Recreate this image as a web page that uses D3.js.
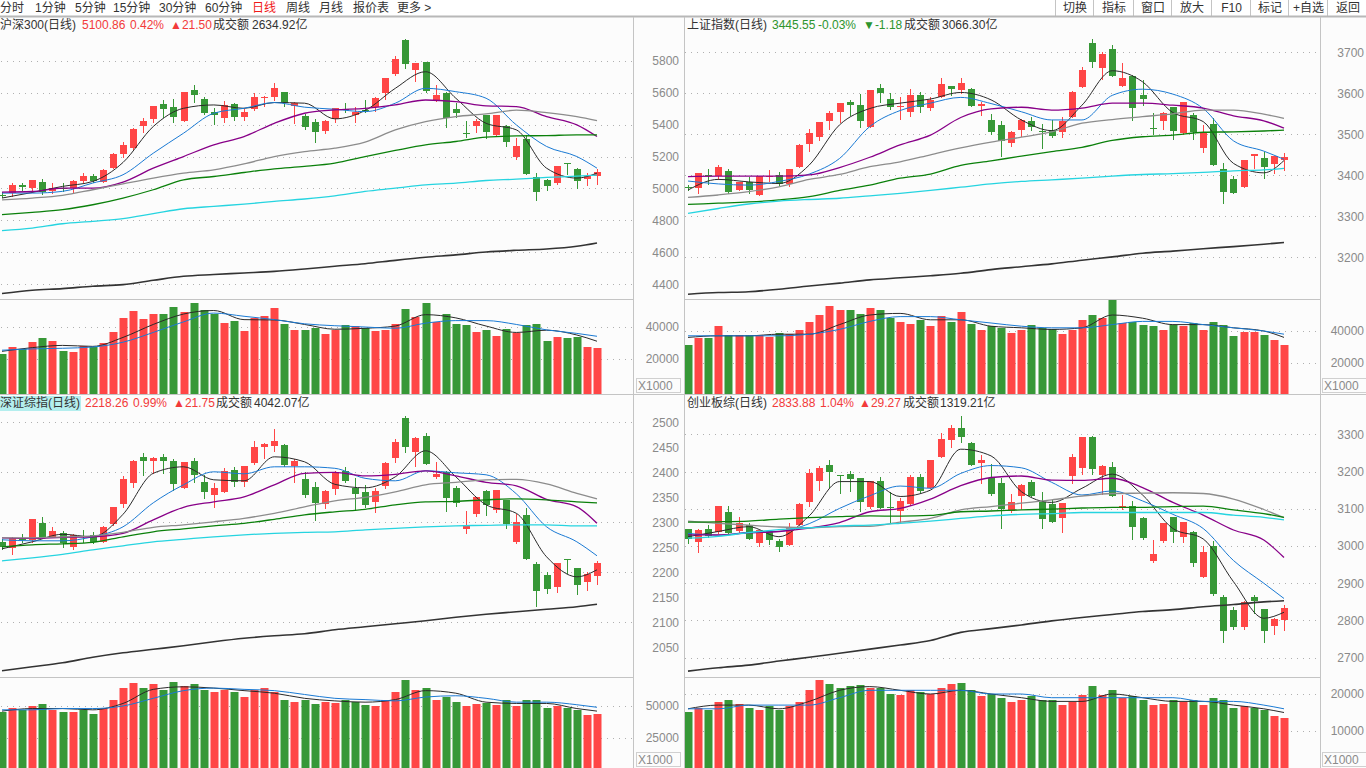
<!DOCTYPE html>
<html>
<head>
<meta charset="utf-8">
<script src="https://cdn.jsdelivr.net/npm/d3@7"></script>
<style>
  body { margin: 0; background: #fcfcfc; overflow: hidden; }
  svg text { font-family: "Liberation Sans", Arial, "Noto Sans CJK SC", sans-serif; font-size: 12px; }
</style>
</head>
<body>
<svg id="chart" width="1366" height="768"></svg>
<script>
// ---- data ----
const toolbarItems = ["分时", "1分钟", "5分钟", "15分钟", "30分钟", "60分钟", "日线", "周线", "月线", "报价表", "更多 >"]
const toolButtons = ["切换", "指标", "窗口", "放大", "F10", "标记", "+自选", "返回"]

// days at which the moving average lines were read
const maDays = [0, 3, 6, 9, 12, 15, 18, 21, 24, 27, 30, 33, 36, 39, 42, 45, 48, 51, 54, 57, 59]

// 沪深300 [open, high, low, close]
const hs300Title = ["沪深300(日线)", "5100.86", "0.42%", "▲21.50", "成交额", "2634.92亿"]
const hs300Candles = [
  [4962,4975,4945,4960],[4971,5033,4954,5023],[5023,5037,4992,5008],[5006,5054,4975,5054],[5040,5058,4967,4975],
  [4987,5033,4971,5006],[5006,5037,4985,5004],[5002,5050,4981,5048],[5048,5096,5040,5075],[5081,5092,5042,5048],
  [5042,5121,5038,5117],[5131,5225,5127,5217],[5217,5294,5200,5273],[5252,5377,5242,5373],[5394,5440,5352,5425],
  [5436,5517,5419,5517],[5529,5554,5450,5498],[5508,5558,5419,5446],[5425,5604,5425,5604],[5617,5648,5544,5585],
  [5560,5571,5467,5475],[5477,5502,5402,5463],[5444,5548,5419,5523],[5529,5538,5429,5446],[5450,5496,5429,5481],
  [5496,5600,5492,5571],[5569,5579,5517,5575],[5571,5663,5554,5629],[5604,5604,5517,5533],[5517,5542,5408,5538],
  [5454,5467,5371,5388],[5417,5433,5294,5356],[5361,5429,5350,5423],[5436,5502,5419,5502],[5496,5533,5481,5494],
  [5461,5513,5419,5477],[5492,5554,5477,5490],[5513,5575,5488,5565],[5596,5690,5560,5690],[5717,5829,5710,5808],
  [5929,5935,5756,5777],[5742,5788,5675,5783],[5790,5790,5606,5610],[5548,5648,5548,5585],[5600,5606,5388,5444],
  [5498,5538,5446,5475],[5346,5423,5325,5344],[5392,5433,5356,5423],[5461,5461,5315,5356],[5336,5461,5329,5461],
  [5392,5398,5263,5288],[5200,5315,5183,5267],[5308,5336,5090,5090],[5071,5096,4925,4981],[5054,5058,4988,5013],
  [5034,5142,5029,5138],[5158,5158,5092,5156],[5121,5127,5002,5044],[5062,5096,5019,5079.36],[5078,5125,5030,5100.86]
]
const hs300Vol = [
  23400,27500,26100,30500,32900,31100,24800,24400,28100,27500,30100,36600,45700,50300,45100,48100,48100,52700,49100,55100,
  50700,48100,42600,43600,37600,45700,46700,51700,42000,38200,38200,39600,35600,38200,41000,40600,39600,37200,38200,42000,
  51100,46500,54700,43000,48100,42000,41000,36600,38200,34200,38600,36200,41200,42000,31100,33500,32900,33500,27500,26900
]
const hs300Ma = [
  [4940,4975,5013,5044,5163,5388,5502,5523,5502,5538,5534,5436,5488,5627,5731,5565,5408,5367,5127,5065,5096],
  [4971,4971,4982,5034,5086,5221,5346,5471,5502,5538,5509,5496,5481,5534,5627,5606,5565,5398,5263,5200,5127],
  [4977,4981,5002,5002,5040,5127,5200,5273,5325,5408,5471,5492,5502,5523,5554,5544,5517,5513,5450,5398,5325],
  [4929,4940,4957,4992,5029,5065,5096,5117,5154,5200,5231,5252,5290,5367,5419,5450,5467,5490,5475,5450,5425],
  [4836,4850,4867,4898,4940,4992,5054,5075,5100,5123,5138,5159,5200,5238,5273,5294,5321,5329,5331,5336,5336],
  [4736,4752,4779,4794,4811,4842,4873,4888,4902,4919,4934,4954,4982,5002,5023,5034,5050,5058,5069,5077,5084],
  [4342,4363,4373,4388,4398,4425,4450,4461,4471,4481,4496,4513,4529,4550,4569,4584,4602,4613,4621,4638,4659]
]
const hs300VolMa = [
  [24800,27100,28500,27900,33500,41600,48100,50300,44600,44400,41600,38600,39200,40600,47700,45700,40600,36600,38000,35000,31100],
  [25500,26300,26700,27500,30500,36600,43200,48700,46700,44600,42000,40800,40000,39200,42400,44000,44000,41600,38200,36000,34200]
]
const hs300Ticks = [4400, 4600, 4800, 5000, 5200, 5400, 5600, 5800]
const hs300VolTicks = [20000, 40000]

// 上证指数
const shTitle = ["上证指数(日线)", "3445.55", "-0.03%", "▼-1.18", "成交额", "3066.30亿"]
const shCandles = [
  [3371,3376,3364,3369],[3370,3405,3356,3405],[3401,3415,3380,3398],[3398,3425,3390,3421],[3410,3415,3356,3360],
  [3364,3384,3363,3383],[3384,3397,3356,3364],[3352,3398,3352,3398],[3395,3413,3385,3398],[3401,3407,3376,3380],
  [3378,3415,3375,3415],[3421,3476,3421,3474],[3476,3513,3459,3502],[3494,3529,3486,3529],[3533,3558,3513,3553],
  [3555,3576,3531,3576],[3578,3584,3547,3572],[3572,3598,3519,3533],[3519,3608,3519,3608],[3613,3623,3578,3600],
  [3586,3600,3561,3567],[3566,3592,3537,3568],[3555,3610,3545,3596],[3596,3602,3555,3567],[3565,3592,3559,3584],
  [3592,3638,3590,3623],[3618,3618,3596,3610],[3608,3638,3600,3626],[3610,3612,3569,3569],[3569,3579,3547,3574],
  [3535,3549,3500,3506],[3523,3532,3448,3484],[3480,3508,3472,3505],[3510,3537,3497,3535],[3533,3543,3510,3519],
  [3507,3524,3467,3505],[3510,3535,3494,3496],[3506,3543,3493,3532],[3541,3606,3541,3604],[3615,3663,3615,3657],
  [3722,3732,3665,3677],[3661,3700,3635,3696],[3708,3718,3643,3643],[3619,3673,3619,3637],[3641,3645,3535,3565],
  [3596,3632,3572,3586],[3515,3553,3501,3512],[3533,3554,3513,3551],[3566,3566,3488,3509],[3502,3580,3501,3580],
  [3547,3551,3489,3505],[3466,3523,3458,3502],[3524,3539,3424,3424],[3415,3429,3332,3360],[3391,3399,3356,3358],
  [3372,3437,3372,3437],[3448,3453,3419,3453],[3441,3458,3394,3421],[3428,3447,3406,3446.73],[3438,3454,3412,3445.55]
]
const shVol = [
  31250,35600,35600,43100,37500,37500,37500,37500,36250,38750,38100,40600,45600,50000,55600,53100,53100,50600,54400,53100,
  48100,45600,44400,46900,43100,49400,45600,51900,44400,40600,43100,41900,38750,40600,43750,41900,41250,38100,40600,46900,
  50000,48100,59400,45000,45600,43750,43100,40600,43750,43100,45000,40600,45600,43750,36900,39400,39400,37500,34400,31250
]
const shMa = [
  [3364,3390,3384,3380,3425,3523,3563,3576,3586,3602,3584,3535,3509,3571,3655,3628,3553,3531,3429,3406,3436],
  [3386,3379,3376,3385,3403,3441,3519,3558,3576,3590,3575,3555,3535,3535,3595,3610,3598,3563,3484,3459,3439],
  [3397,3398,3398,3398,3401,3419,3444,3474,3498,3541,3562,3566,3559,3564,3576,3576,3571,3564,3545,3533,3515],
  [3346,3352,3360,3372,3390,3402,3421,3433,3450,3467,3481,3493,3506,3527,3536,3543,3550,3559,3559,3549,3539],
  [3329,3332,3335,3340,3348,3363,3376,3393,3403,3424,3435,3447,3458,3468,3485,3494,3498,3505,3506,3508,3510],
  [3307,3319,3330,3337,3341,3344,3350,3356,3363,3371,3379,3385,3389,3393,3398,3402,3404,3407,3411,3413,3417],
  [3110,3114,3116,3122,3130,3137,3145,3150,3155,3161,3170,3177,3184,3193,3201,3210,3215,3221,3226,3232,3236]
]
const shVolMa = [
  [36000,37000,37000,38000,38000,44000,50000,51000,47000,47000,43000,42000,41000,42000,50000,48000,44000,44000,42000,40000,36000],
  [37000,37000,37000,37000,38000,41000,46000,49000,49000,47000,45000,43000,42000,42000,44000,46000,46000,44000,42000,40000,38000]
]
const shTicks = [3200, 3300, 3400, 3500, 3600, 3700]
const shVolTicks = [20000, 40000]

// 深证综指
const szTitle = ["深证综指(日线)", "2218.26", "0.99%", "▲21.75", "成交额", "4042.07亿"]
const szCandles = [
  [2261,2266,2247,2250],[2248,2271,2236,2269],[2269,2276,2261,2265],[2265,2307,2261,2307],[2299,2311,2268,2270],
  [2271,2291,2270,2283],[2279,2283,2251,2258],[2251,2276,2247,2275],[2273,2285,2261,2271],[2275,2280,2258,2260],
  [2261,2293,2260,2291],[2296,2331,2295,2331],[2336,2393,2331,2387],[2378,2425,2371,2423],[2431,2439,2395,2423],
  [2423,2431,2398,2428],[2430,2437,2399,2423],[2423,2427,2365,2376],[2368,2421,2368,2420],[2423,2429,2380,2395],
  [2380,2395,2348,2361],[2355,2378,2331,2369],[2361,2409,2360,2403],[2405,2411,2373,2380],[2380,2413,2373,2413],
  [2418,2463,2417,2450],[2450,2458,2428,2456],[2453,2487,2443,2463],[2455,2457,2413,2415],[2413,2426,2381,2423],
  [2386,2401,2350,2355],[2370,2380,2305,2338],[2336,2365,2329,2363],[2367,2403,2356,2400],[2403,2411,2380,2383],
  [2368,2388,2325,2356],[2360,2375,2331,2335],[2341,2368,2321,2363],[2373,2421,2368,2419],[2429,2467,2421,2461],
  [2509,2513,2441,2451],[2440,2471,2413,2469],[2473,2478,2417,2417],[2391,2421,2388,2397],[2400,2403,2323,2349],
  [2368,2373,2333,2338],[2287,2323,2279,2293],[2317,2351,2313,2350],[2363,2365,2315,2335],[2325,2365,2320,2365],
  [2345,2345,2289,2297],[2261,2317,2258,2301],[2315,2328,2226,2226],[2217,2221,2133,2163],[2195,2200,2159,2167],
  [2171,2218,2161,2218],[2226,2226,2198,2225],[2208,2209,2156,2175],[2181,2201,2165,2196.51],[2193,2223,2177,2218.26]
]
const szVol = [
  45300,48400,46900,50000,51500,46900,45300,45300,46900,43700,48400,54700,64000,67900,64000,67200,62500,68700,65600,67200,
  62500,60900,62500,60900,57000,62500,64000,60900,54700,53100,54700,51500,53100,52300,54700,53100,50800,50000,54700,60900,
  70300,62500,64000,54700,57000,53100,50000,51500,52300,50800,54700,50000,54700,54700,48400,50000,48400,46900,43000,43700
]
const szMa = [
  [2247,2261,2276,2271,2316,2398,2411,2385,2383,2431,2421,2376,2369,2391,2443,2391,2335,2318,2231,2191,2205],
  [2265,2263,2263,2271,2291,2339,2375,2401,2397,2411,2411,2408,2388,2383,2403,2399,2395,2357,2291,2261,2233],
  [2269,2268,2270,2271,2278,2305,2330,2341,2351,2375,2398,2400,2393,2396,2403,2393,2380,2373,2346,2331,2298],
  [2269,2269,2271,2273,2280,2290,2295,2301,2308,2318,2331,2343,2350,2361,2375,2380,2385,2386,2377,2358,2347],
  [2251,2255,2257,2260,2271,2281,2287,2293,2298,2306,2315,2321,2326,2335,2341,2342,2345,2347,2345,2341,2339],
  [2223,2229,2236,2245,2253,2261,2266,2271,2275,2278,2280,2281,2285,2288,2291,2293,2294,2295,2295,2293,2293],
  [2003,2011,2019,2030,2039,2046,2053,2061,2068,2073,2077,2085,2091,2097,2103,2110,2116,2121,2126,2131,2136]
]
const szVolMa = [
  [46000,48000,48000,47000,52000,63000,65000,64000,62000,60000,56000,54000,53000,55000,62000,60000,53000,52000,52000,48000,46000],
  [47000,47000,48000,48000,50000,56000,62000,64000,63000,62000,59000,56000,55000,54000,57000,58000,56000,53000,53000,51000,49000]
]
const szTicks = [2050, 2100, 2150, 2200, 2250, 2300, 2350, 2400, 2450, 2500]
const szGrid = [2100, 2200, 2300, 2400, 2500]
const szVolTicks = [25000, 50000]

// 创业板综
const cybTitle = ["创业板综(日线)", "2833.88", "1.04%", "▲29.27", "成交额", "1319.21亿"]
const cybCandles = [
  [3046,3046,3007,3019],[3012,3045,2983,3043],[3047,3056,3025,3028],[3037,3107,3034,3107],[3090,3107,3031,3034],
  [3040,3077,3038,3061],[3056,3061,3019,3019],[3009,3043,3001,3043],[3040,3043,3005,3016],[3013,3019,2987,2998],
  [3003,3063,3003,3052],[3056,3115,3056,3112],[3119,3207,3108,3195],[3175,3216,3150,3209],[3218,3231,3159,3200],
  [3190,3191,3143,3188],[3193,3201,3149,3179],[3182,3182,3095,3117],[3106,3175,3103,3175],[3175,3186,3101,3101],
  [3104,3146,3065,3102],[3095,3128,3064,3121],[3112,3192,3110,3186],[3184,3193,3146,3149],[3157,3231,3155,3231],
  [3240,3303,3238,3287],[3285,3325,3265,3316],[3316,3349,3278,3294],[3276,3278,3218,3218],[3224,3244,3170,3231],
  [3182,3219,3137,3139],[3168,3182,3049,3099],[3094,3139,3092,3119],[3133,3166,3101,3164],[3171,3177,3133,3133],
  [3117,3146,3049,3073],[3113,3124,3064,3065],[3074,3115,3037,3115],[3189,3246,3168,3238],[3209,3294,3193,3294],
  [3292,3296,3193,3207],[3191,3218,3140,3216],[3213,3225,3135,3135],[3101,3137,3099,3107],[3107,3121,3019,3052],
  [3074,3079,3019,3022],[2960,3016,2958,2979],[3013,3061,3012,3061],[3079,3079,3012,3038],[3025,3064,3012,3064],
  [3037,3040,2947,2955],[2918,3001,2918,2983],[3000,3014,2868,2871],[2864,2868,2743,2773],[2828,2835,2776,2782],
  [2783,2852,2776,2849],[2864,2868,2819,2852],[2832,2832,2743,2773],[2786,2806,2764,2804.61],[2800,2842,2774,2833.88]
]
const cybVol = [
  15100,16200,15700,17800,18400,17300,16200,15700,16700,15700,16700,17800,21100,23800,22700,21600,22100,22400,21600,21600,
  20000,19700,21100,20500,20000,21600,22700,23000,21100,19400,20000,18900,17800,18400,19400,18400,18400,17000,17800,19700,
  22100,19700,21100,18900,19400,18400,17000,17300,18400,17800,18400,17000,18900,18400,16200,16700,16200,15700,14000,13500
]
const cybMa = [
  [3025,3039,3052,3025,3081,3173,3173,3133,3150,3260,3242,3146,3117,3155,3193,3137,3047,3019,2904,2806,2822],
  [3034,3029,3037,3039,3060,3101,3135,3161,3155,3195,3216,3210,3171,3137,3148,3121,3085,3047,2961,2900,2859],
  [3030,3030,3035,3039,3048,3063,3092,3101,3126,3162,3184,3188,3177,3176,3182,3157,3117,3083,3043,3016,2969],
  [3067,3061,3056,3051,3049,3052,3053,3064,3074,3097,3106,3115,3124,3134,3141,3142,3143,3141,3126,3098,3076],
  [3064,3065,3067,3072,3076,3079,3081,3080,3082,3092,3094,3097,3099,3102,3104,3104,3106,3107,3097,3087,3077],
  [3021,3026,3036,3044,3049,3054,3056,3061,3067,3074,3081,3085,3087,3090,3090,3090,3090,3090,3083,3077,3070],
  [2664,2673,2680,2691,2701,2712,2723,2734,2746,2768,2778,2788,2799,2808,2816,2824,2829,2837,2843,2850,2853]
]
const cybVolMa = [
  [16000,17000,17000,16000,18000,21000,22000,21000,20000,21000,20000,19000,18000,18000,20000,19000,18000,18000,17000,16000,15000],
  [16000,16000,17000,17000,17000,19000,21000,21000,21000,21000,20000,20000,19000,19000,19000,19000,19000,18000,18000,17000,16000]
]
const cybTicks = [2700, 2800, 2900, 3000, 3100, 3200, 3300]
const cybVolTicks = [10000, 20000]

// ---- styles ----
const upColor = "#ff4646"
const downColor = "#379837"
const maColors = ["#2a2a2a", "#1a7ad4", "#880088", "#8c8c8c", "#0b800b", "#26d4e0", "#333333"]
const maWidths = [1, 1, 1.3, 1.3, 1.3, 1.3, 1.6]
const volMaColors = ["#2a2a2a", "#1a7ad4"]
const textDark = "#333"
const axisGray = "#8a8a8a"
const lineGray = "#c4c4c4"

// layout of each window; scales are pinned so the tick labels sit where the screenshot has them
const panels = [
  { title: hs300Title, titleX: [0, 82, 130, 170, 213, 252], titleY: 29, candles: hs300Candles, vol: hs300Vol,
    ma: hs300Ma, volMa: hs300VolMa, left: 0, right: 633, xFirst: 2, xLast: 597,
    top: 17, mid: 299, bottom: 394, priceDomain: [4400, 5800], priceRange: [284.3, 60.7],
    ticks: hs300Ticks, grid: hs300Ticks, volTicks: hs300VolTicks, volRange: [359, 327], labelX: 679, unitX: 636 },
  { title: shTitle, titleX: [687, 772, 818, 863, 904, 942], titleY: 29, candles: shCandles, vol: shVol,
    ma: shMa, volMa: shVolMa, left: 684, right: 1320, xFirst: 688, xLast: 1284,
    top: 17, mid: 299, bottom: 394, priceDomain: [3200, 3700], priceRange: [257.3, 52.3],
    ticks: shTicks, grid: shTicks, volTicks: shVolTicks, volRange: [363, 331], labelX: 1364, unitX: 1322 },
  { title: szTitle, titleX: [0, 85, 133, 173, 216, 254], titleY: 407, candles: szCandles, vol: szVol,
    ma: szMa, volMa: szVolMa, left: 0, right: 633, xFirst: 2, xLast: 597,
    top: 395, mid: 677, bottom: 768, priceDomain: [2050, 2500], priceRange: [647.3, 422.3],
    ticks: szTicks, grid: szGrid, volTicks: szVolTicks, volRange: [738, 706], labelX: 679, unitX: 636, selected: true },
  { title: cybTitle, titleX: [687, 772, 820, 859, 903, 940], titleY: 407, candles: cybCandles, vol: cybVol,
    ma: cybMa, volMa: cybVolMa, left: 684, right: 1320, xFirst: 688, xLast: 1284,
    top: 395, mid: 677, bottom: 768, priceDomain: [2700, 3300], priceRange: [657.7, 434.3],
    ticks: cybTicks, grid: cybTicks, volTicks: cybVolTicks, volRange: [731, 694], labelX: 1364, unitX: 1322 }
]

const svg = d3.select("#chart")

svg.append("rect")
    .attr("width", 1366)
    .attr("height", 768)
    .attr("fill", "#fcfcfc")

// 1. toolbar
const toolbarX = [0, 35, 75, 113, 159, 205, 252, 286, 319, 353, 397]
svg.append("rect")
    .attr("width", 1366)
    .attr("height", 16)
    .attr("fill", "#ffffff")

svg.append("g")
  .selectAll("text")
  .data(toolbarItems)
  .join("text")
    .attr("x", (d, i) => toolbarX[i])
    .attr("y", 12)
    .attr("fill", d => d == "日线" ? "#f01818" : textDark)
    .text(d => d)

const buttonEdges = [1055, 1093, 1133, 1171, 1211, 1250, 1288, 1327, 1367]
svg.append("g")
  .selectAll("line")
  .data(buttonEdges.slice(0, -1))
  .join("line")
    .attr("x1", d => d + 0.5)
    .attr("x2", d => d + 0.5)
    .attr("y1", 0)
    .attr("y2", 16)
    .attr("stroke", lineGray)

svg.append("g")
  .selectAll("text")
  .data(toolButtons)
  .join("text")
    .attr("x", (d, i) => (buttonEdges[i] + buttonEdges[i + 1]) / 2 + 1)
    .attr("y", 12)
    .attr("text-anchor", "middle")
    .attr("fill", textDark)
    .text(d => d)

svg.append("line")
    .attr("x1", 0).attr("x2", 1366)
    .attr("y1", 16.5).attr("y2", 16.5)
    .attr("stroke", "#b8b8b8")
    .attr("stroke-width", 2)

// 2. windows
panels.forEach((p, n) => drawPanel(p, n))

function drawPanel(p, n) {
  const x = d3.scaleLinear()
    .domain([0, p.candles.length - 1])
    .range([p.xFirst, p.xLast])
  const y = d3.scaleLinear()
    .domain(p.priceDomain)
    .range(p.priceRange)
  const yVol = d3.scaleLinear()
    .domain(p.volTicks)
    .range(p.volRange)
  const px = i => Math.round(x(i))
  const isUp = d => d[3] >= d[0]

  const g = svg.append("g")

  const defs = g.append("defs")
  defs.append("clipPath").attr("id", "price" + n)
    .append("rect")
      .attr("x", p.left).attr("y", p.top + 1)
      .attr("width", p.right - p.left).attr("height", p.mid - p.top - 1)
  defs.append("clipPath").attr("id", "vol" + n)
    .append("rect")
      .attr("x", p.left).attr("y", p.mid + 1)
      .attr("width", p.right - p.left).attr("height", p.bottom - p.mid - 1)

  // dotted grid
  g.append("g")
    .selectAll("line")
    .data(p.grid)
    .join("line")
      .attr("x1", p.left + 1)
      .attr("x2", p.right)
      .attr("y1", d => Math.round(y(d)) + 0.5)
      .attr("y2", d => Math.round(y(d)) + 0.5)
      .attr("stroke", "#b0b0b0")
      .attr("stroke-dasharray", "1,5")

  g.append("g")
    .selectAll("line")
    .data(p.volTicks)
    .join("line")
      .attr("x1", p.left + 1)
      .attr("x2", p.right)
      .attr("y1", d => Math.round(yVol(d)) + 0.5)
      .attr("y2", d => Math.round(yVol(d)) + 0.5)
      .attr("stroke", "#b0b0b0")
      .attr("stroke-dasharray", "1,5")

  // title
  if (p.selected) {
    g.append("rect")
      .attr("x", 0).attr("y", p.top + 1)
      .attr("width", 81).attr("height", 15)
      .attr("fill", "#b4eeee")
  }
  const up = p.title[2].indexOf("-") < 0
  g.append("g")
    .selectAll("text")
    .data(p.title)
    .join("text")
      .attr("x", (d, i) => p.titleX[i])
      .attr("y", p.titleY)
      .attr("fill", (d, i) => (i >= 1 && i <= 3) ? (up ? "#f23a3a" : "#2d942d") : textDark)
      .text(d => d)

  // candles
  const price = g.append("g").attr("clip-path", `url(#price${n})`)

  price.append("g")
    .selectAll("line")
    .data(p.candles)
    .join("line")
      .attr("x1", (d, i) => px(i) + 0.5)
      .attr("x2", (d, i) => px(i) + 0.5)
      .attr("y1", d => Math.round(y(d[1])))
      .attr("y2", d => Math.round(y(d[2])) + 1)
      .attr("stroke", d => isUp(d) ? upColor : downColor)

  price.append("g")
    .selectAll("rect")
    .data(p.candles)
    .join("rect")
      .attr("x", (d, i) => px(i) - 3)
      .attr("width", 7)
      .attr("y", d => Math.round(y(Math.max(d[0], d[3]))))
      .attr("height", d => Math.max(1, Math.round(y(Math.min(d[0], d[3]))) - Math.round(y(Math.max(d[0], d[3])))))
      .attr("fill", d => isUp(d) ? upColor : downColor)

  // moving averages
  const maLine = d3.line()
    .x((d, k) => x(maDays[k]))
    .y(d => y(d))
    .curve(d3.curveMonotoneX)

  price.append("g")
    .attr("fill", "none")
    .selectAll("path")
    .data(p.ma)
    .join("path")
      .attr("d", maLine)
      .attr("stroke", (d, k) => maColors[k])
      .attr("stroke-width", (d, k) => maWidths[k])

  // volume
  const vol = g.append("g").attr("clip-path", `url(#vol${n})`)

  vol.append("g")
    .selectAll("rect")
    .data(p.vol)
    .join("rect")
      .attr("x", (d, i) => px(i) - 3.5)
      .attr("width", 8)
      .attr("y", d => Math.round(yVol(d)))
      .attr("height", d => p.bottom - Math.round(yVol(d)))
      .attr("fill", (d, i) => isUp(p.candles[i]) ? upColor : downColor)

  const volLine = d3.line()
    .x((d, k) => x(maDays[k]))
    .y(d => yVol(d))
    .curve(d3.curveMonotoneX)

  vol.append("g")
    .attr("fill", "none")
    .selectAll("path")
    .data(p.volMa)
    .join("path")
      .attr("d", volLine)
      .attr("stroke", (d, k) => volMaColors[k])
      .attr("stroke-width", 1)

  // axis labels
  g.append("g")
    .selectAll("text")
    .data(p.ticks)
    .join("text")
      .attr("x", p.labelX)
      .attr("y", d => y(d))
      .attr("dy", "0.36em")
      .attr("text-anchor", "end")
      .attr("fill", axisGray)
      .text(d => d)

  g.append("g")
    .selectAll("text")
    .data(p.volTicks)
    .join("text")
      .attr("x", p.labelX)
      .attr("y", d => yVol(d))
      .attr("dy", "0.36em")
      .attr("text-anchor", "end")
      .attr("fill", axisGray)
      .text(d => d)

  g.append("rect")
    .attr("x", p.unitX + 0.5)
    .attr("y", p.bottom - 15.5)
    .attr("width", 44)
    .attr("height", 14)
    .attr("fill", "none")
    .attr("stroke", "#d0d0d0")
  g.append("text")
    .attr("x", p.unitX + 2)
    .attr("y", p.bottom - 4)
    .attr("fill", axisGray)
    .text("X1000")

  // frame
  g.append("line")
    .attr("x1", p.left).attr("x2", p.right)
    .attr("y1", p.mid + 0.5).attr("y2", p.mid + 0.5)
    .attr("stroke", lineGray)
}

// 3. frame lines between windows
const frame = svg.append("g").attr("stroke", lineGray)
frame.selectAll("line.v")
  .data([633, 684, 1320])
  .join("line")
    .attr("x1", d => d + 0.5)
    .attr("x2", d => d + 0.5)
    .attr("y1", 17)
    .attr("y2", 768)
frame.append("line")
    .attr("x1", 0).attr("x2", 1366)
    .attr("y1", 394.5).attr("y2", 394.5)
</script>
</body>
</html>
